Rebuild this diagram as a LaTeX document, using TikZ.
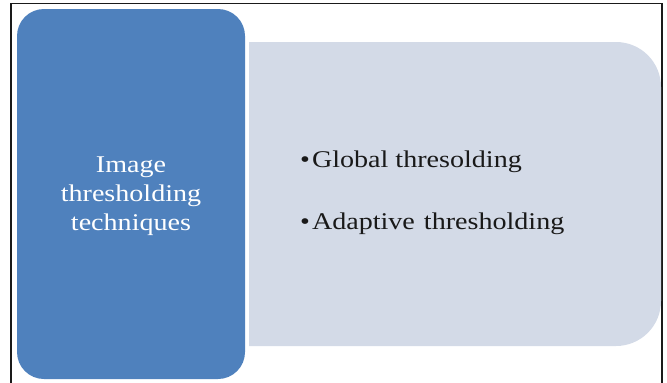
\documentclass[tikz,border=0pt]{standalone}
\usepackage{fontspec}
\setmainfont{Liberation Serif}
\newfontfamily\widefont[FakeStretch=1.17]{Liberation Serif}
\definecolor{headblue}{HTML}{4F81BD}
\definecolor{listgray}{HTML}{D3DAE7}
\definecolor{frameline}{HTML}{1A1A1A}
\begin{document}
\begin{tikzpicture}[x=1pt,y=-1pt,
  headbox/.style={fill=headblue},
  listbox/.style={fill=listgray},
  headtext/.style={text=white,font=\widefont\fontsize{24}{29}\selectfont,align=center,inner sep=0pt},
  itemtext/.style={text=black!90,font=\widefont\fontsize{24}{29}\selectfont,inner sep=0pt,anchor=base west}]
  \useasboundingbox (0,0) rectangle (667,383);
  % outer frame (open at the bottom)
  \draw[frameline,line width=1.6pt] (11,383) -- (11,3.5) -- (662,3.5) -- (662,383);
  % list panel: square on the left, rounded on the right (y axis points down)
  \fill[listbox] (249,42) -- (616,42) arc[start angle=-90,end angle=0,radius=45]
    -- (661,301) arc[start angle=0,end angle=90,radius=45] -- (249,346) -- cycle;
  % heading panel
  \fill[headbox,rounded corners=27pt] (17,9) rectangle (245,379);
  \node[headtext] (head) at (131,196) {Image\\thresholding\\techniques};
  \node[itemtext] (item1) at (300,167.3) {\textbullet\hspace{2pt}Global thresolding};
  \node[itemtext] (item2) at (300,229.3) {\textbullet\hspace{2pt}Adaptive\hspace{9pt}thresholding};
\end{tikzpicture}
\end{document}
